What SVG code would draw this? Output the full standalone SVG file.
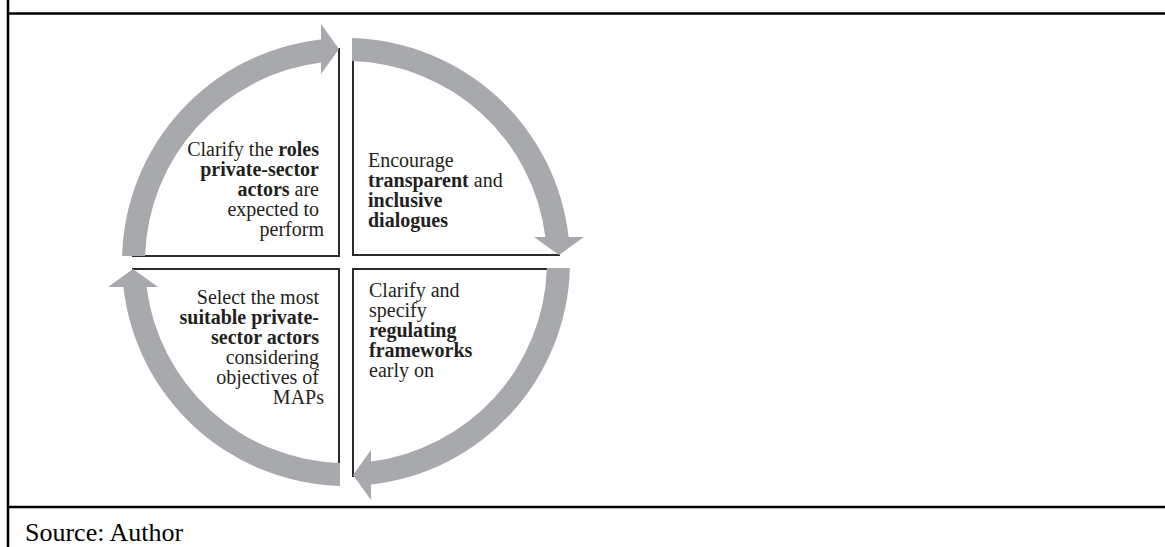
<svg xmlns="http://www.w3.org/2000/svg" width="1165" height="547" viewBox="0 0 1165 547">
  <style>
    .frame { stroke: #000; stroke-width: 2.5; fill: none; }
    .box { stroke: #2b2b2b; stroke-width: 2; fill: none; }
    .arrow { fill: #a7a9ac; }
    .t { font-family: "Liberation Serif", "Times New Roman", serif; font-size: 20px; fill: #231f20; }
    .b { font-weight: bold; }
    .src { font-family: "Liberation Serif", "Times New Roman", serif; font-size: 26px; fill: #000; }
  </style>
  <defs>
    <path id="arc" d="M -223.9,-6 A 224,224 0 0,1 -25,-222.6 L -25,-238 L -7,-213 L -25,-188 L -25,-199.4 A 201,201 0 0,0 -200.9,-6 Z"/>
  </defs>
  <rect x="0" y="0" width="1165" height="547" fill="#fff"/>
  <g id="frame">
    <line class="frame" x1="8" y1="0" x2="8" y2="547"/>
    <line class="frame" x1="8" y1="13.5" x2="1165" y2="13.5"/>
    <line class="frame" x1="8" y1="507" x2="1165" y2="507"/>
    <text class="src" x="25" y="541">Source: Author</text>
  </g>
  <g id="node-roles">
    <polyline class="box" points="339,48 339,256 132,256"/>
    <text class="t" text-anchor="end">
      <tspan x="324" y="156">Clarify the <tspan class="b">roles</tspan></tspan>
      <tspan x="324" y="176" class="b">private-sector</tspan>
      <tspan x="324" y="196"><tspan class="b">actors</tspan> are</tspan>
      <tspan x="324" y="216">expected to</tspan>
      <tspan x="324" y="236">perform</tspan>
    </text>
  </g>
  <g id="node-dialogues">
    <polyline class="box" points="353,48 353,255 560,255"/>
    <text class="t">
      <tspan x="368" y="167">Encourage</tspan>
      <tspan x="368" y="187"><tspan class="b">transparent</tspan> and</tspan>
      <tspan x="368" y="207" class="b">inclusive</tspan>
      <tspan x="368" y="227" class="b">dialogues</tspan>
    </text>
  </g>
  <g id="node-frameworks">
    <polyline class="box" points="561,269 353,269 353,477"/>
    <text class="t">
      <tspan x="369" y="297">Clarify and</tspan>
      <tspan x="369" y="317">specify</tspan>
      <tspan x="369" y="337" class="b">regulating</tspan>
      <tspan x="369" y="357" class="b">frameworks</tspan>
      <tspan x="369" y="377">early on</tspan>
    </text>
  </g>
  <g id="node-actors">
    <polyline class="box" points="132,269 339,269 339,477"/>
    <text class="t" text-anchor="end">
      <tspan x="324" y="304">Select the most</tspan>
      <tspan x="324" y="324" class="b">suitable private-</tspan>
      <tspan x="324" y="344" class="b">sector actors</tspan>
      <tspan x="324" y="364">considering</tspan>
      <tspan x="324" y="384">objectives of</tspan>
      <tspan x="324" y="404">MAPs</tspan>
    </text>
  </g>
  <g id="connectors">
    <use href="#arc" class="arrow" transform="translate(346,262)"/>
    <use href="#arc" class="arrow" transform="translate(346,262) rotate(90)"/>
    <use href="#arc" class="arrow" transform="translate(346,262) rotate(180)"/>
    <use href="#arc" class="arrow" transform="translate(346,262) rotate(270)"/>
  </g>
</svg>
